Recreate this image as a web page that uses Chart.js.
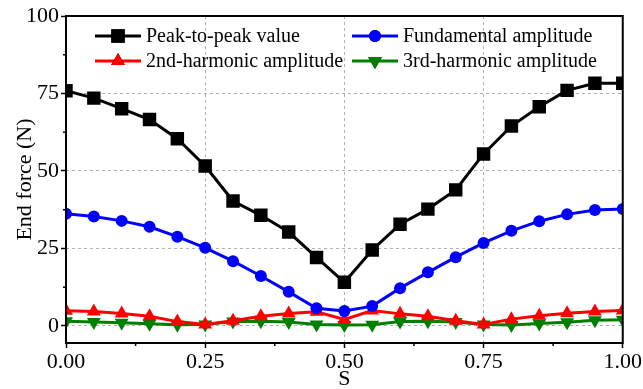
<!DOCTYPE html>
<html>
<head>
<meta charset="utf-8">
<script src="https://cdn.jsdelivr.net/npm/chart.js@4.4.0/dist/chart.umd.min.js"></script>
<style>
  html, body { margin: 0; padding: 0; background: #fff; }
  #wrap { width: 643px; height: 389px; }
</style>
</head>
<body>
<div id="wrap"><canvas id="c" width="643" height="389"></canvas></div>
<script>
// S positions and measured amplitudes (N)
const sValues = [0, 0.05, 0.1, 0.15, 0.2, 0.25, 0.3, 0.35, 0.4, 0.45, 0.5, 0.55, 0.6, 0.65, 0.7, 0.75, 0.8, 0.85, 0.9, 0.95, 1.0]
const peakToPeak = [75.9, 73.5, 70.1, 66.6, 60.4, 51.6, 40.3, 35.7, 30.3, 22.1, 14.1, 24.5, 32.8, 37.7, 43.9, 55.5, 64.5, 70.7, 76.0, 78.3, 78.3]
const fundamental = [36.2, 35.3, 33.9, 32.0, 28.8, 25.2, 20.9, 16.1, 11.0, 5.7, 4.8, 6.4, 12.2, 17.3, 22.2, 26.8, 30.7, 33.8, 36.0, 37.4, 37.7]
const harmonic2 = [4.9, 4.7, 4.0, 3.1, 1.4, 0.5, 1.7, 3.1, 4.0, 4.6, 2.1, 5.0, 3.9, 3.1, 1.7, 0.5, 2.2, 3.3, 4.1, 4.7, 5.0]
const harmonic3 = [1.5, 1.3, 1.0, 0.7, 0.4, 0.5, 1.4, 1.5, 1.3, 0.5, 0.3, 0.4, 1.4, 1.5, 1.3, 0.5, 0.3, 0.8, 1.2, 1.8, 2.0]
const yTicks = [0, 25, 50, 75, 100]
const xTicks = [0, 0.25, 0.5, 0.75, 1.0]

const FONT = 'Liberation Serif'

function pts(arr) {
  return sValues.map((s, i) => ({ x: s, y: arr[i] }))
}

function series(label, arr, color, style, radius, rot) {
  return {
    label: label,
    data: pts(arr),
    borderColor: color,
    backgroundColor: color,
    borderWidth: 3,
    pointStyle: style,
    pointRadius: radius,
    pointRotation: rot || 0,
    pointBorderWidth: 0,
    fill: false,
    tension: 0
  }
}

const datasets = [
  series('Peak-to-peak value', peakToPeak, '#000000', 'rect', 9.5),
  series('Fundamental amplitude', fundamental, '#0000ff', 'circle', 6),
  series('2nd-harmonic amplitude', harmonic2, '#ff0000', 'triangle', 8),
  series('3rd-harmonic amplitude', harmonic3, '#007f00', 'triangle', 8, 180)
]

// legend drawn inside the plot, two columns
const legendSpots = [
  { x: 95, y: 36 },
  { x: 352, y: 36 },
  { x: 95, y: 61 },
  { x: 352, y: 61 }
]

const framePlugin = {
  id: 'frameAndLegend',
  afterDatasetsDraw(chart) {
    const ctx = chart.ctx
    const a = chart.chartArea
    ctx.save()
    ctx.strokeStyle = '#000'
    ctx.lineWidth = 2
    ctx.strokeRect(a.left, a.top, a.right - a.left, a.bottom - a.top)

    // minor ticks
    const xs = chart.scales.x, ys = chart.scales.y
    ctx.lineWidth = 1.5
    ctx.beginPath()
    for (const v of [0.125, 0.375, 0.625, 0.875]) {
      const px = xs.getPixelForValue(v)
      ctx.moveTo(px, a.bottom); ctx.lineTo(px, a.bottom + 3)
    }
    for (const v of [12.5, 37.5, 62.5, 87.5]) {
      const py = ys.getPixelForValue(v)
      ctx.moveTo(a.left, py); ctx.lineTo(a.left - 3, py)
    }
    ctx.stroke()

    // legend
    ctx.font = '20px "' + FONT + '"'
    ctx.textBaseline = 'middle'
    ctx.textAlign = 'left'
    chart.data.datasets.forEach((ds, i) => {
      const p = legendSpots[i]
      ctx.strokeStyle = ds.borderColor
      ctx.lineWidth = 3
      ctx.beginPath()
      ctx.moveTo(p.x, p.y)
      ctx.lineTo(p.x + 46, p.y)
      ctx.stroke()
      Chart.helpers.drawPoint(ctx, {
        pointStyle: ds.pointStyle,
        radius: ds.pointRadius,
        rotation: ds.pointRotation,
        borderWidth: 0
      }, p.x + 23, p.y)
      ctx.fillStyle = ds.borderColor
      ctx.fill()
      ctx.fillStyle = '#000'
      ctx.fillText(ds.label, p.x + 51, p.y + 1)
    })
    ctx.restore()
  }
}

new Chart(document.getElementById('c').getContext('2d'), {
  type: 'line',
  data: { datasets: datasets },
  options: {
    responsive: false,
    animation: false,
    layout: { padding: { top: 16, right: 20, left: 0, bottom: 0 } },
    plugins: { legend: { display: false }, tooltip: { enabled: false } },
    scales: {
      x: {
        type: 'linear',
        min: 0,
        max: 1,
        afterBuildTicks: axis => { axis.ticks = xTicks.map(v => ({ value: v })) },
        afterFit: axis => { axis.height = 46 },
        ticks: {
          color: '#000',
          font: { family: FONT, size: 22 },
          padding: 1,
          maxRotation: 0,
          callback: v => v.toFixed(2)
        },
        grid: {
          color: ctx => (ctx.tick && (ctx.tick.value === 0 || ctx.tick.value === 1)) ? 'rgba(0,0,0,0)' : '#b0b0b0',
          lineWidth: 1,
          tickColor: '#000',
          tickLength: 5,
          tickWidth: 1.5
        },
        border: { display: false, dash: [3, 3] },
        title: {
          display: true,
          text: 'S',
          color: '#000',
          font: { family: FONT, size: 22 },
          padding: { top: 0, bottom: -3 }
        }
      },
      y: {
        type: 'linear',
        min: -5.5,
        max: 100,
        afterBuildTicks: axis => { axis.ticks = yTicks.map(v => ({ value: v })) },
        afterFit: axis => { axis.width = 66 },
        ticks: {
          color: '#000',
          font: { family: FONT, size: 22 },
          padding: 2
        },
        grid: {
          color: ctx => (ctx.tick && ctx.tick.value === 100) ? 'rgba(0,0,0,0)' : '#b0b0b0',
          lineWidth: 1,
          tickColor: '#000',
          tickLength: 5,
          tickWidth: 1.5
        },
        border: { display: false, dash: [3, 3] },
        title: {
          display: true,
          text: 'End force (N)',
          color: '#000',
          font: { family: FONT, size: 22 },
          padding: { top: 12, bottom: 0 }
        }
      }
    }
  },
  plugins: [framePlugin]
})
</script>
</body>
</html>
